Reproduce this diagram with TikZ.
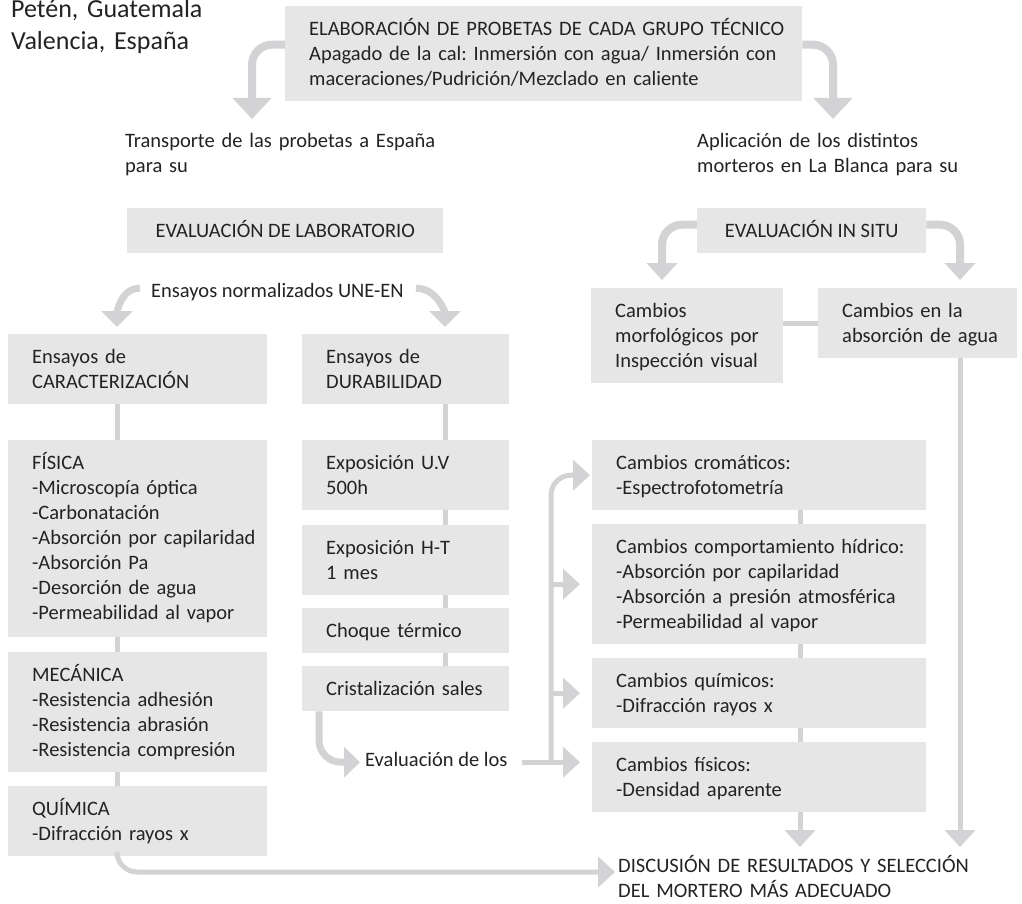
\documentclass[tikz,border=0pt]{standalone}
\usepackage{fontspec}
\setmainfont{Carlito}
\usepackage{tikz}
\usetikzlibrary{arrows.meta,calc}

\definecolor{boxfill}{RGB}{230,230,231}
\definecolor{linkgray}{RGB}{211,211,213}
\definecolor{ink}{RGB}{35,35,35}
\frenchspacing

\begin{document}
\begin{tikzpicture}[
    x=1pt, y=-1pt,
    font=\fontsize{20.5}{25}\selectfont, text=ink,
    box/.style={fill=boxfill, anchor=north west, inner xsep=0pt, inner ysep=16pt, text height=13pt, align=left, execute at begin node={\leftskip=24pt}},
    cbox/.style={fill=boxfill, anchor=north west, inner sep=0pt, minimum height=45pt, text height=13pt, text depth=0pt, align=center},
    txt/.style={anchor=north west, inner sep=0pt, text height=13pt, align=left},
    link/.style={draw=linkgray, line width=5pt},
    arr/.style={link, -{Triangle[width=30pt,length=17pt]}},
    bigarr/.style={draw=linkgray, line width=8pt, rounded corners=20pt, -{Triangle[width=38pt,length=21pt]}},
    bendarr/.style={draw=linkgray, line width=7pt, -{Triangle[width=31pt,length=16pt]}}
]
\path[use as bounding box, fill=white] (0,0) rectangle (1022,904);

% columns of the connectors
\coordinate (colA) at (117,0);
\coordinate (colB) at (445,0);
\coordinate (colC) at (800,0);
\coordinate (colD) at (960,0);
\coordinate (colE) at (551,0);
\coordinate (colF) at (662,0);
\coordinate (colG) at (252,0);
\coordinate (colH) at (833,0);

\node[txt, font=\fontsize{26}{32}\selectfont, text height=16pt, text depth=32pt, text width=260pt] (origin) at (11,1) {Petén, Guatemala\\Valencia, España};

\node[box, text width=517pt, text depth=50pt] (elab) at (285,6) {ELABORACIÓN DE PROBETAS DE CADA GRUPO TÉCNICO\\Apagado de la cal: Inmersión con agua/ Inmersión con\\maceraciones/Pudrición/Mezclado en caliente};
\node[txt, text width=330pt, text depth=25pt] (transp) at (125,134) {Transporte de las probetas a España\\para su};
\node[txt, text width=320pt, text depth=25pt] (aplic) at (697,134) {Aplicación de los distintos\\morteros en La Blanca para su};

\node[cbox, minimum width=316pt] (lab) at (127,208) {EVALUACIÓN DE LABORATORIO};
\node[txt, text depth=5pt] (ensnorm) at (151,284) {Ensayos normalizados UNE-EN};
\node[cbox, minimum width=229pt] (insitu) at (697,208) {EVALUACIÓN IN SITU};

% laboratorio
\node[box, text width=259pt, text depth=25pt] (carac) at (8,334) {Ensayos de\\CARACTERIZACIÓN};
\node[box, text width=259pt, text depth=152pt] (fisica) at (8,440) {FÍSICA\\-Microscopía óptica\\-Carbonatación\\-Absorción por capilaridad\\-Absorción Pa\\-Desorción de agua\\-Permeabilidad al vapor};
\node[box, text width=259pt, text depth=75pt] (meca) at (8,652) {MECÁNICA\\-Resistencia adhesión\\-Resistencia abrasión\\-Resistencia compresión};
\node[box, text width=259pt, text depth=25pt] (quim) at (8,786) {QUÍMICA\\-Difracción rayos x};

\node[box, text width=207pt, text depth=25pt] (dura) at (302,334) {Ensayos de\\DURABILIDAD};
\node[box, text width=207pt, text depth=25pt] (uv) at (302,440) {Exposición U.V\\500h};
\node[box, text width=207pt, text depth=25pt] (ht) at (302,525) {Exposición H-T\\1 mes};
\node[box, text width=207pt, text depth=0pt] (choque) at (302,608) {Choque térmico};
\node[box, text width=207pt, text depth=0pt] (crist) at (302,666) {Cristalización sales};
\node[txt, text depth=5pt] (evallos) at (365,753) {Evaluación de los};

% in situ
\node[box, text width=192pt, text depth=50pt] (morf) at (591,288) {Cambios\\morfológicos por\\Inspección visual};
\node[box, text width=199pt, text depth=25pt] (absor) at (818,288) {Cambios en la\\absorción de agua};

\node[box, text width=334pt, text depth=25pt] (crom) at (592,440) {Cambios cromáticos:\\-Espectrofotometría};
\node[box, text width=334pt, text depth=75pt] (hidr) at (592,524) {Cambios comportamiento hídrico:\\-Absorción por capilaridad\\-Absorción a presión atmosférica\\-Permeabilidad al vapor};
\node[box, text width=334pt, text depth=25pt] (quimc) at (592,658) {Cambios químicos:\\-Difracción rayos x};
\node[box, text width=334pt, text depth=25pt] (fisc) at (592,742) {Cambios físicos:\\-Densidad aparente};

\node[txt, text width=400pt, text depth=25pt] (disc) at (618,859) {DISCUSIÓN DE RESULTADOS Y SELECCIÓN\\DEL MORTERO MÁS ADECUADO};

% connectors
\draw[bigarr, shorten >=15pt] ([yshift=9pt]elab.west) -| (transp.north -| colG);
\draw[bigarr, shorten >=15pt] ([yshift=9pt]elab.east) -| (aplic.north -| colH);

\draw[bendarr, shorten >=7pt] ([xshift=-11pt,yshift=5pt]ensnorm.west) to[out=180,in=90] (carac.north -| colA);
\draw[bendarr, shorten >=7pt] ([xshift=12pt,yshift=5pt]ensnorm.east) to[out=0,in=90] (dura.north -| colB);

\draw[bigarr, -{Triangle[width=30pt,length=17pt]}, shorten >=8pt] ([yshift=6pt]insitu.west) -| (morf.north -| colF);
\draw[bigarr, -{Triangle[width=30pt,length=17pt]}, shorten >=8pt] ([yshift=6pt]insitu.east) -| (absor.north -| colD);
\draw[link] (absor.west -| morf.east) -- (absor.west);

\foreach \a/\b in {carac/fisica, fisica/meca, meca/quim}
    \draw[link] (\a.south -| colA) -- (\b.north -| colA);
\foreach \a/\b in {dura/uv, uv/ht, ht/choque, choque/crist}
    \draw[link] (\a.south -| colB) -- (\b.north -| colB);
\foreach \a/\b in {crom/hidr, hidr/quimc, quimc/fisc}
    \draw[link] (\a.south -| colC) -- (\b.north -| colC);

\draw[bendarr, rounded corners=22pt, -{Triangle[width=30pt,length=16pt]}, shorten >=5pt] ([xshift=17pt]crist.south west) |- (evallos.west);

\coordinate (jn) at (evallos.east -| colE);
\draw[arr, shorten <=14pt, shorten >=12pt] (evallos.east) -- (evallos.east -| fisc.west);
\draw[arr, rounded corners=20pt, shorten >=2pt] (jn) |- (crom.west);
\draw[arr, shorten >=12pt] (hidr.west -| colE) -- (hidr.west);
\draw[arr, shorten >=12pt] (quimc.west -| colE) -- (quimc.west);

\draw[arr, shorten >=12pt] (fisc.south -| colC) -- (disc.north -| colC);
\draw[arr, shorten >=12pt] (absor.south -| colD) -- (disc.north -| colD);
\draw[arr, rounded corners=20pt, shorten >=3pt] (quim.south -| colA) |- ([yshift=-13pt]disc.north west);
\end{tikzpicture}
\end{document}
